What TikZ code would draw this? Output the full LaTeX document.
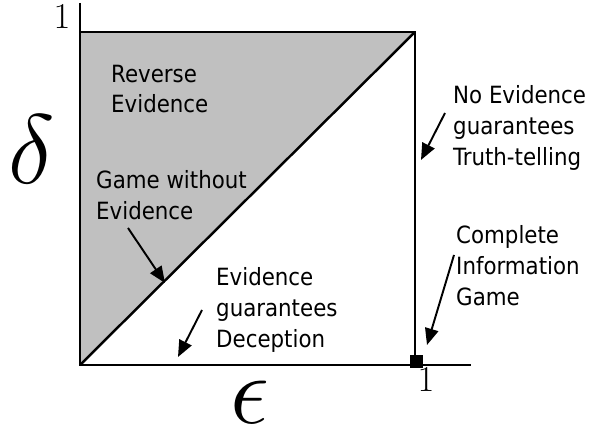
\documentclass[tikz,border=0pt]{standalone}
\usepackage{fontspec}
\setmainfont{DejaVu Sans Condensed}
\usetikzlibrary{arrows.meta}
\definecolor{cRegion}{RGB}{192,192,192}

\begin{document}
\begin{tikzpicture}[line width=1.4pt,
   lbl/.style={anchor=west,align=left,inner sep=0pt,
               font=\fontsize{13.5}{17.6}\selectfont},
   ptr/.style={-{Triangle[length=0.33cm,width=0.27cm]},line width=1.1pt},
   greek/.style={font=\Huge,scale=2.25,inner sep=0pt},
   tick/.style={font=\huge,inner sep=0pt}]
  \useasboundingbox (0,0) rectangle (11.8,8.6);
  % corners of the unit square
  \coordinate (o)  at (1.6,1.3);
  \coordinate (tl) at (1.6,7.96);
  \coordinate (tr) at (8.3,7.96);
  \coordinate (br) at (8.3,1.3);
  \coordinate (ytop) at (1.6,8.54);
  \coordinate (xend) at (9.42,1.3);
  \fill[cRegion] (o) -- (tl) -- (tr) -- cycle;
  \draw (tl) -- (tr) -- (br);
  \draw (o) -- (tr);
  \draw (ytop) -- (o) -- (xend);
  \node[fill=black,minimum size=0.26cm,inner sep=0pt] (corner) at (8.32,1.36) {};
  % axis labels
  \node[tick] (one-y) at (1.24,8.26) {$1$};
  \node[tick] (one-x) at (8.52,1.0) {$1$};
  \node[greek] (delta) at (0.64,5.62) {$\delta$};
  \node[greek] (eps) at (5.0,0.56) {$\epsilon$};
  % region texts
  \node[lbl] (rev) at (2.2,6.82) {Reverse\\Evidence};
  \node[lbl] (gwe) at (1.9,4.7) {Game without\\Evidence};
  \node[lbl] (egd) at (4.3,2.4) {Evidence\\guarantees\\Deception};
  \node[lbl] (net) at (9.04,6.04) {No Evidence\\guarantees\\Truth-telling};
  \node[lbl] (cig) at (9.1,3.28) {Complete\\Information\\Game};
  % pointers
  \coordinate (gwe-s) at (2.56,4.04);
  \coordinate (gwe-e) at (3.3,2.94);
  \coordinate (egd-s) at (4.04,2.4);
  \coordinate (egd-e) at (3.56,1.46);
  \coordinate (net-s) at (8.9,6.34);
  \coordinate (net-e) at (8.42,5.4);
  \coordinate (cig-s) at (9.08,3.5);
  \coordinate (cig-e) at (8.54,1.7);
  \draw[ptr] (gwe-s) -- (gwe-e);
  \draw[ptr] (egd-s) -- (egd-e);
  \draw[ptr] (net-s) -- (net-e);
  \draw[ptr] (cig-s) -- (cig-e);
\end{tikzpicture}
\end{document}
